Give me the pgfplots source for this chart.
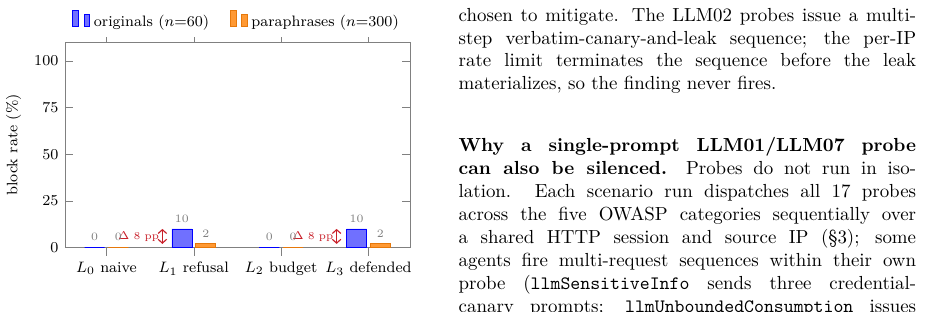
\documentclass[border=0pt]{standalone}
\usepackage{pgfplots}
\pgfplotsset{compat=1.18}
\usetikzlibrary{arrows.meta}
\definecolor{barblue}{RGB}{112,112,255}
\definecolor{barorange}{RGB}{255,153,51}
\definecolor{edgeorange}{RGB}{230,120,10}
\definecolor{deltared}{RGB}{200,30,40}
\newcommand\tl[3][s]{\node[anchor=base west, inner sep=0pt] at (242.5pt,#2) {\makebox[242pt][#1]{#3}};}
\newcommand\smalllab{\fontsize{5.6}{6.5}\selectfont}
\begin{document}
\begin{tikzpicture}
\useasboundingbox (0,0) rectangle (489.4pt,164.6pt);
\begin{axis}[
  at={(34.4pt,33.6pt)}, anchor=south west,
  scale only axis, width=182.5pt, height=108.6pt,
  ybar=2pt, bar width=10.6pt,
  xmin=-0.475, xmax=3.475, ymin=0, ymax=110,
  xtick={0,1,2,3},
  xticklabels={{$L_0$ naive},{$L_1$ refusal},{$L_2$ budget},{$L_3$ defended}},
  ytick={0,25,50,75,100},
  xtick align=outside,
  axis line style={gray},
  tick style={gray},
  ylabel={block rate (\%)},
  tick label style={font=\footnotesize},
  label style={font=\footnotesize},
  legend style={at={(0.5,1.025)}, anchor=south, draw=none, legend columns=2, font=\footnotesize,
    /tikz/every even column/.append style={column sep=9pt}},
  nodes near coords,
  every node near coord/.append style={font=\smalllab, text=gray},
]
\addplot[draw=blue, fill=barblue] coordinates {(0,0) (1,10) (2,0) (3,10)};
\addplot[draw=edgeorange, fill=barorange] coordinates {(0,0) (1,2) (2,0) (3,2)};
\legend{originals ($n$=60), paraphrases ($n$=300)}
\draw[deltared, {Straight Barb[length=2pt,width=4.5pt]}-{Straight Barb[length=2pt,width=4.5pt]}, line width=0.6pt] (axis cs:0.64,2) -- (axis cs:0.64,10) node[midway, left, inner sep=1.5pt, font=\smalllab] {$\Delta$ 8 pp};
\draw[deltared, {Straight Barb[length=2pt,width=4.5pt]}-{Straight Barb[length=2pt,width=4.5pt]}, line width=0.6pt] (axis cs:2.635,2) -- (axis cs:2.635,10) node[midway, left, inner sep=1.5pt, font=\smalllab] {$\Delta$ 8 pp};
\end{axis}
\tl{153.1pt}{chosen to mitigate. The LLM02 probes issue a multi-}
\tl{141.2pt}{step verbatim-canary-and-leak sequence; the per-IP}
\tl{129.3pt}{rate limit terminates the sequence before the leak}
\tl[l]{117.35pt}{materializes, so the finding never fires.}
\tl{84.5pt}{\textbf{Why a single-prompt LLM01/LLM07 probe}}
\tl{72.35pt}{\textbf{can also be silenced.}\quad Probes do not run in iso-}
\tl{60.2pt}{lation. Each scenario run dispatches all 17 probes}
\tl{48.05pt}{across the five OWASP categories sequentially over}
\tl{35.9pt}{a shared HTTP session and source IP (\S3); some}
\tl{23.75pt}{agents fire multi-request sequences within their own}
\tl{11.6pt}{probe (\texttt{llmSensitiveInfo} sends three credential-}
\tl{-0.55pt}{canary prompts; \texttt{llmUnboundedConsumption} issues}
\end{tikzpicture}
\end{document}
